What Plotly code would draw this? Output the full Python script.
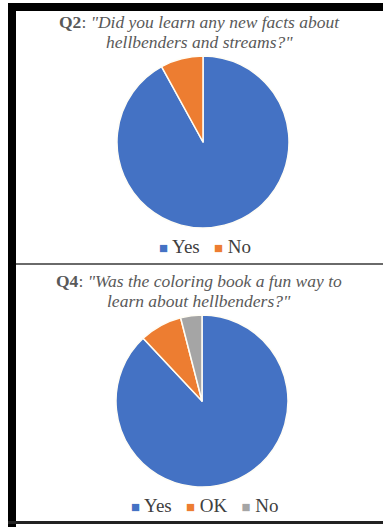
import plotly.graph_objects as go

W, H = 383, 527

# ---- data ----
q2_labels = ["Yes", "No"]
q2_values = [92, 8]
q2_colors = ["#4472C4", "#ED7D31"]

q4_labels = ["Yes", "OK", "No"]
q4_values = [88, 8, 4]
q4_colors = ["#4472C4", "#ED7D31", "#A5A5A5"]

q2_title = ("<b>Q2</b>: <i>\"Did you learn any new facts about</i>", "<i>hellbenders and streams?\"</i>")
q4_title = ("<b>Q4</b>: <i>\"Was the coloring book a fun way to</i>", "<i>learn about hellbenders?\"</i>")


def px(x):
    return x / W


def py(y):
    return 1 - y / H


SERIF = "Liberation Serif, Times New Roman, serif"
TXT = "#595959"

R = 86
pie1_c = (203, 142)
pie2_c = (202, 401)

fig = go.Figure()
fig.add_trace(go.Pie(
    labels=q2_labels, values=q2_values, sort=False, direction="clockwise", rotation=0,
    marker=dict(colors=q2_colors, line=dict(color="#FFFDF5", width=1.5)),
    textinfo="none", hoverinfo="label+value",
    domain=dict(x=[px(pie1_c[0] - R), px(pie1_c[0] + R)], y=[py(pie1_c[1] + R), py(pie1_c[1] - R)]),
))
fig.add_trace(go.Pie(
    labels=q4_labels, values=q4_values, sort=False, direction="clockwise", rotation=0,
    marker=dict(colors=q4_colors, line=dict(color="#FFFDF5", width=1.5)),
    textinfo="none", hoverinfo="label+value",
    domain=dict(x=[px(pie2_c[0] - R), px(pie2_c[0] + R)], y=[py(pie2_c[1] + R), py(pie2_c[1] - R)]),
))

shapes = [
    dict(type="rect", xref="paper", yref="paper", x0=px(8), x1=px(16), y0=py(527), y1=py(3),
         fillcolor="black", line=dict(width=0), layer="above"),
    dict(type="rect", xref="paper", yref="paper", x0=px(8), x1=px(383), y0=py(11), y1=py(3),
         fillcolor="black", line=dict(width=0), layer="above"),
    dict(type="rect", xref="paper", yref="paper", x0=px(16), x1=px(383), y0=py(265), y1=py(263),
         fillcolor="#6a6a6a", line=dict(width=0), layer="above"),
    dict(type="rect", xref="paper", yref="paper", x0=px(8), x1=px(383), y0=py(524), y1=py(521),
         fillcolor="#222222", line=dict(width=0), layer="above"),
]

annotations = []
for (l1, l2), (y1, y2) in [(q2_title, (22, 42)), (q4_title, (281, 301))]:
    for txt, yy in [(l1, y1), (l2, y2)]:
        annotations.append(dict(
            text=txt, x=px(199), y=py(yy), xref="paper", yref="paper",
            xanchor="center", yanchor="middle", showarrow=False,
            font=dict(family=SERIF, size=17.5, color=TXT),
        ))


def legend_text(labels, colors):
    parts = []
    for lab, col in zip(labels, colors):
        parts.append(f"<span style='color:{col};font-size:15px'>■</span> {lab}")
    return "   ".join(parts)


for labels, colors, yy in [(q2_labels, q2_colors, 246), (q4_labels, q4_colors, 505)]:
    annotations.append(dict(
        text=legend_text(labels, colors), x=px(205), y=py(yy), xref="paper", yref="paper",
        xanchor="center", yanchor="middle", showarrow=False,
        font=dict(family=SERIF, size=19, color="#404040"),
    ))

fig.update_layout(
    width=W, height=H,
    margin=dict(l=0, r=0, t=0, b=0),
    paper_bgcolor="white", plot_bgcolor="white",
    shapes=shapes, annotations=annotations,
    showlegend=False,
)

fig.write_html("out.html", config={"displayModeBar": False},
               post_script="document.body.style.margin='0';document.body.style.overflow='hidden';")
